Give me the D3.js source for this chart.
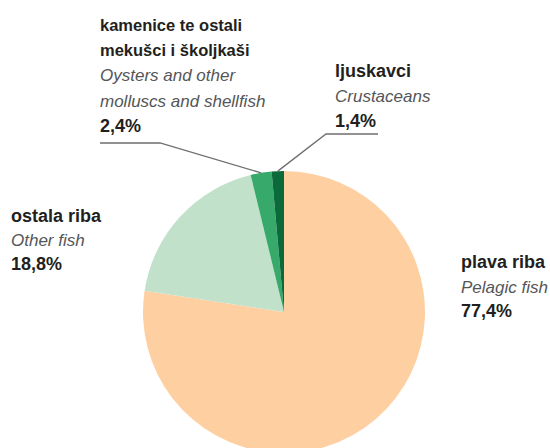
<!DOCTYPE html>
<html>
<head>
<meta charset="utf-8">
<script src="https://cdn.jsdelivr.net/npm/d3@7"></script>
<style>
  body { margin: 0; background: #fff; }
  text { font-family: "Liberation Sans", Arial, sans-serif; }
  .name { font-weight: bold; fill: #231f20; font-size: 18px; }
  .eng { font-style: italic; fill: #555658; font-size: 17px; }
  .pct { font-weight: bold; fill: #231f20; font-size: 18px; }
</style>
</head>
<body>
<div id="chart"></div>
<script>
// fish catch shares, clockwise from 12 o'clock
var names = ["plava riba", "ostala riba", "kamenice te ostali|mekušci i školjkaši", "ljuskavci"];
var english = ["Pelagic fish", "Other fish", "Oysters and other|molluscs and shellfish", "Crustaceans"];
var values = [77.4, 18.8, 2.4, 1.4];
var colors = ["#fecfa0", "#c2e1cb", "#37a96a", "#0b6a39"];

var WIDTH = 550, HEIGHT = 448;
var cx = 284, cy = 312, R = 141;

var svg = d3.select("#chart").append("svg")
    .attr("width", WIDTH)
    .attr("height", HEIGHT);

var pie = d3.pie().sort(null).value(function(d) { return d; });
var arc = d3.arc().innerRadius(0).outerRadius(R);
var arcs = pie(values);

var g = svg.append("g").attr("transform", "translate(" + cx + "," + cy + ")");

g.selectAll("path")
    .data(arcs)
    .enter()
    .append("path")
    .attr("d", arc)
    .style("fill", function(d, i) { return colors[i]; });

// label blocks: x, first baseline, line step, size of the croatian name
var labelPos = [
  {x: 461, y: 268, step: 24.5, size: 18},
  {x: 11, y: 222, step: 24, size: 18},
  {x: 100, y: 31, step: 25.2, size: 16.5},
  {x: 335, y: 77, step: 25, size: 18}
];

function fmt(v) { return v.toFixed(1).replace(".", ",") + "%"; }

labelPos.forEach(function(p, i) {
  var lines = [];
  names[i].split("|").forEach(function(s) { lines.push({t: s, c: "name"}); });
  english[i].split("|").forEach(function(s) { lines.push({t: s, c: "eng"}); });
  lines.push({t: fmt(values[i]), c: "pct"});
  svg.append("g").selectAll("text")
    .data(lines)
    .enter()
    .append("text")
    .attr("class", function(d) { return d.c; })
    .attr("x", p.x)
    .attr("y", function(d, j) { return p.y + j * p.step; })
    .style("font-size", function(d) { return d.c == "name" ? p.size + "px" : null; })
    .text(function(d) { return d.t; });
});

// leader lines for the two small slices
var outer = d3.arc().innerRadius(R).outerRadius(R);
function leader(i, elbow, end) {
  var c = outer.centroid(arcs[i]);
  var pts = [[cx + c[0], cy + c[1]], elbow, end];
  svg.append("path")
    .attr("d", d3.line()(pts))
    .style("fill", "none")
    .style("stroke", "#6d6e71")
    .style("stroke-width", 1.3);
}
leader(2, [160, 143], [100, 143]);
leader(3, [326, 134], [378, 134]);
</script>
</body>
</html>
